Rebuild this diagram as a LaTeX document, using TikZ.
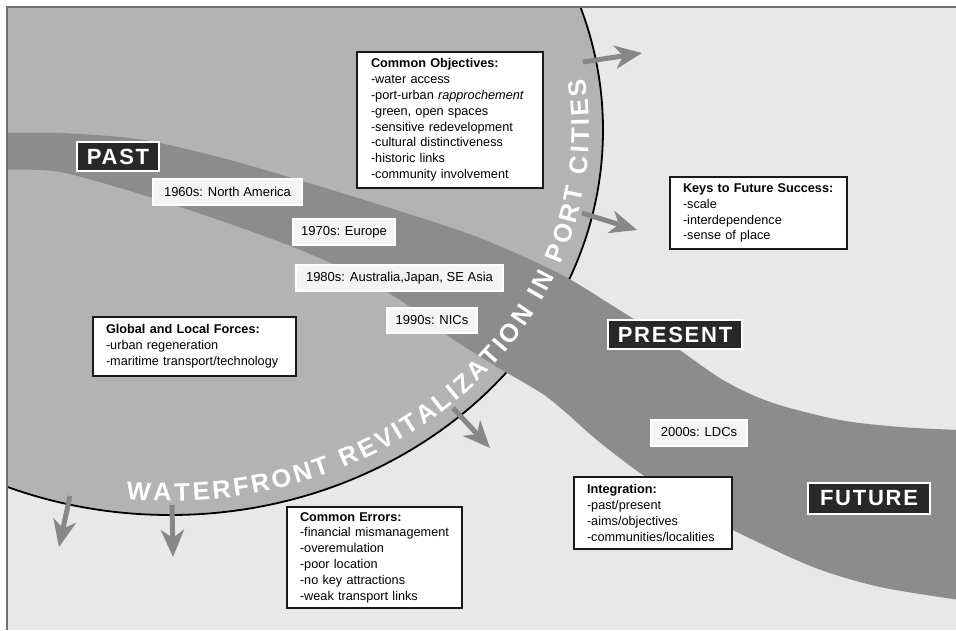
\documentclass[tikz,border=0pt]{standalone}
\usepackage{fontspec}
\setmainfont{Liberation Sans}
\newfontfamily\capsfont{Liberation Sans}[LetterSpace=8]
\newfontfamily\arcfont{Liberation Sans}
\newcommand\arcstyle{\arcfont\bfseries\fontsize{25.5}{25.5}\selectfont}
\usetikzlibrary{arrows.meta,decorations.text}
\definecolor{bglight}{HTML}{E8E8E8}
\definecolor{circgray}{HTML}{B3B3B3}
\definecolor{bandgray}{HTML}{8C8C8C}
\definecolor{arrowgray}{HTML}{878787}
\definecolor{darklab}{HTML}{282828}
\definecolor{framegray}{HTML}{707070}
\definecolor{declab}{HTML}{F4F4F4}
\tikzset{
  tbox/.style={draw=black!90, line width=2pt, fill=white, align=left, inner xsep=0pt, inner ysep=0pt,
    font=\fontsize{12.7}{15.8}\selectfont},
  declabel/.style={fill=declab, draw=white, line width=2pt, inner xsep=8pt, inner ysep=0pt,
    minimum height=26pt, font=\fontsize{13}{15}\selectfont},
  eralabel/.style={fill=darklab, draw=white, line width=2.5pt, text=white, inner sep=0pt,
    font=\capsfont\bfseries\fontsize{22}{22}\selectfont},
  bigarrow/.style={draw=arrowgray, line width=5pt, -{Stealth[length=27pt,width=23pt,inset=8pt]}}
}
\begin{document}
\begin{tikzpicture}[x=1pt,y=1pt]
\useasboundingbox (0,0) rectangle (956,-630);
\fill[white] (0,0) rectangle (956,-630);
\begin{scope}
  \clip (7,-7) rectangle (956,-630);
  \fill[bglight] (7,-7) rectangle (956,-630);
  \fill[circgray] (170,-130) ellipse [x radius=433, y radius=385];
  \draw[black, line width=1.8pt] (170,-130) ellipse [x radius=433, y radius=385];
  \fill[bandgray] plot[smooth] coordinates {(0,-133) (60,-133) (120,-137) (160,-143) (230,-160) (302,-181) (390,-208) (480,-238) (560,-274) (613,-306) (660,-336) (723,-380) (773,-403) (840,-420) (900,-427) (960,-430)}
    -- plot[smooth] coordinates {(960,-600) (880,-587) (813,-567) (733,-530) (690,-505) (640,-473) (597,-440) (547,-397) (497,-367) (447,-335) (400,-300) (350,-272) (293,-247) (233,-225) (153,-198) (60,-172) (0,-170)}
    -- cycle;
\end{scope}
\draw[framegray, line width=1.2pt] (7,-630) -- (7,-7) -- (956,-7);

% text along the circle
\path[decorate, decoration={text along path, text align=fit to path, text color=white,
    text={|\arcstyle|WATERFRONT REVITALIZATION IN PORT CITIES}}]
  (170,-130) ++(264:419 and 371) arc[start angle=264, end angle=368, x radius=419, y radius=371];

% arrows
\coordinate (a1s) at (583,-62);  \coordinate (a1e) at (642,-53);
\coordinate (a2s) at (582,-213); \coordinate (a2e) at (637,-230);
\coordinate (a3s) at (453,-408); \coordinate (a3e) at (490,-448);
\coordinate (a4s) at (70,-496);  \coordinate (a4e) at (59,-547);
\coordinate (a5s) at (172,-505); \coordinate (a5e) at (173,-557);
\draw[bigarrow] (a1s) -- (a1e);
\draw[bigarrow] (a2s) -- (a2e);
\draw[bigarrow] (a3s) -- (a3e);
\draw[bigarrow] (a4s) -- (a4e);
\draw[bigarrow] (a5s) -- (a5e);

% era labels
\node[eralabel, minimum width=82pt, minimum height=29pt] (past) at (118,-156.5) {PAST};
\node[eralabel, minimum width=134pt, minimum height=29pt] (present) at (675,-334.5) {PRESENT};
\node[eralabel, minimum width=122pt, minimum height=31pt] (future) at (869,-498.5) {FUTURE};

% decade labels
\node[declabel, minimum width=149pt] (d60) at (227.5,-191.5) {1960s: North America};
\node[declabel, minimum width=102pt] (d70) at (344,-232) {1970s: Europe};
\node[declabel, minimum width=207pt] (d80) at (399.5,-278) {1980s: Australia,Japan, SE Asia};
\node[declabel, minimum width=90pt, minimum height=25pt] (d90) at (432,-320.5) {1990s: NICs};
\node[declabel, minimum width=96pt] (d00) at (699,-432.5) {2000s: LDCs};

% text boxes
\node[tbox, minimum width=186pt, minimum height=136pt, text width=158pt] (objectives) at (450,-120) {\textbf{Common Objectives:}\\-water access\\-port-urban \textit{rapprochement}\\-green, open spaces\\-sensitive redevelopment\\-cultural distinctiveness\\-historic links\\-community involvement};
\node[tbox, minimum width=177pt, minimum height=72pt, text width=151pt] (keys) at (758.5,-213) {\textbf{Keys to Future Success:}\\-scale\\-interdependence\\-sense of place};
\node[tbox, minimum width=203pt, minimum height=59pt, text width=177pt] (forces) at (194.5,-346.5) {\textbf{Global and Local Forces:}\\-urban regeneration\\-maritime transport/technology};
\node[tbox, minimum width=175pt, minimum height=101pt, text width=149pt] (errors) at (374.5,-557.5) {\textbf{Common Errors:}\\-financial mismanagement\\-overemulation\\-poor location\\-no key attractions\\-weak transport links};
\node[tbox, minimum width=158pt, minimum height=72pt, text width=132pt] (integration) at (653,-513) {\textbf{Integration:}\\-past/present\\-aims/objectives\\-communities/localities};
\end{tikzpicture}
\end{document}
